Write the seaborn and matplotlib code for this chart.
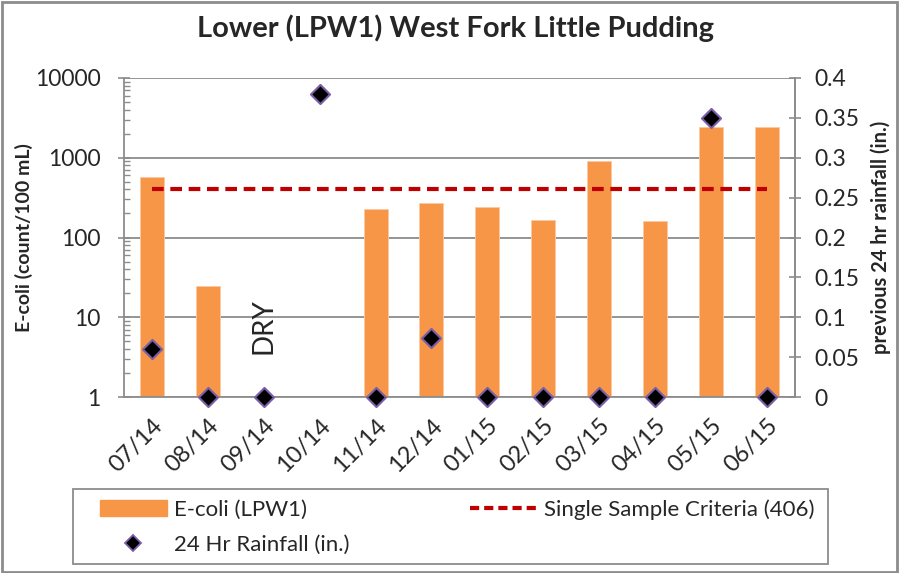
import numpy as np
import pandas as pd
import matplotlib
matplotlib.use("Agg")
import matplotlib.pyplot as plt
from matplotlib.patches import Rectangle
from matplotlib.lines import Line2D
from matplotlib.ticker import FixedLocator, NullFormatter
import seaborn as sns

# data
months = ['07/14', '08/14', '09/14', '10/14', '11/14', '12/14',
          '01/15', '02/15', '03/15', '04/15', '05/15', '06/15']
ecoli = [575, 25, np.nan, np.nan, 228, 268, 240, 168, 900, 159, 2420, 2420]
rainfall = [0.06, 0.0, 0.0, 0.38, 0.0, 0.074, 0.0, 0.0, 0.0, 0.0, 0.35, 0.0]
criteria = [406] * len(months)

df = pd.DataFrame({'month': months, 'ecoli': ecoli,
                   'rain': rainfall, 'crit': criteria})
df['pos'] = np.arange(len(df))

sns.set_style("white")
plt.rcParams['font.family'] = ['Lato', 'DejaVu Sans']

orange = '#F79646'
grey = '#8c8c8c'
tick_fs = 16.5

fig = plt.figure(figsize=(8.99, 5.73), dpi=100)
ax = fig.add_axes([0.138, 0.307, 0.746, 0.557])

sns.barplot(data=df, x='pos', y='ecoli', color=orange, width=0.43,
            saturation=1, edgecolor='#fbc9a3', linewidth=0.6, ax=ax,
            order=list(df['pos']), zorder=2)
ax.set_yscale('log')
ax.set_ylim(1, 10000)
ax.set_xlim(-0.5, len(months) - 0.5)

ax.yaxis.grid(True, which='major', color=grey, linewidth=1.3, zorder=0)
ax.set_axisbelow(True)
ax.set_yticks([1, 10, 100, 1000, 10000])
ax.set_yticklabels(['1', '10', '100', '1000', '10000'])

# x ticks between categories, labels at centres
ax.set_xticks(df['pos'])
ax.set_xticklabels(months, rotation=45, ha='right', rotation_mode='anchor')
ax.xaxis.set_minor_locator(FixedLocator(np.arange(-0.5, len(months), 1)))
ax.tick_params(axis='x', which='major', length=0, pad=13, labelsize=17)
ax.tick_params(axis='x', which='minor', length=10, direction='inout',
               color=grey, width=1.2)
ax.tick_params(axis='y', which='major', length=8, direction='inout',
               color=grey, width=1.2, labelsize=tick_fs, pad=13)
ax.tick_params(axis='y', which='minor', length=4, direction='in',
               color=grey, width=1)
ax.yaxis.set_minor_formatter(NullFormatter())

ax.spines['top'].set_visible(False)
for side in ['left', 'right', 'bottom']:
    ax.spines[side].set_color(grey)
    ax.spines[side].set_linewidth(1.3)

sns.lineplot(data=df, x='pos', y='crit', color='#c00000', linewidth=3,
             linestyle=(0, (2.8, 1.6)), ax=ax, zorder=3)

ax.set_xlabel('')
ax.set_ylabel('E-coli (count/100 mL)', fontsize=14, fontweight='bold',
              labelpad=1)

ax.text(2, 7.8, 'DRY', rotation=90, ha='center', va='center', fontsize=20)

ax2 = ax.twinx()
sns.scatterplot(data=df, x='pos', y='rain', marker='D', s=95, color='black',
                edgecolor='#7a5ea8', linewidth=1.5, ax=ax2, zorder=5,
                clip_on=False)
ax2.set_ylim(0, 0.4)
ax2.set_yticks(np.arange(0, 0.41, 0.05))
ax2.set_yticklabels(['0', '0.05', '0.1', '0.15', '0.2', '0.25', '0.3',
                     '0.35', '0.4'])
ax2.tick_params(axis='y', length=8, direction='inout', color=grey, width=1.2,
                labelsize=tick_fs, pad=10)
ax2.set_ylabel('previous 24 hr rainfall (in.)', fontsize=14.5,
               fontweight='bold', labelpad=8)
for side in ['top', 'left', 'bottom']:
    ax2.spines[side].set_visible(False)
ax2.spines['right'].set_color(grey)
ax2.spines['right'].set_linewidth(1.3)
ax2.set_xlim(-0.5, len(months) - 0.5)

fig.text(0.507, 1 - 28 / 573, 'Lower (LPW1) West Fork Little Pudding',
         fontsize=21, fontweight='bold', ha='center', va='center')

handles = [Rectangle((0, 0), 1, 1, color=orange),
           Line2D([], [], marker='D', linestyle='none', markersize=8,
                  markerfacecolor='black', markeredgecolor='#7a5ea8',
                  markeredgewidth=1.3),
           Line2D([], [], color='#c00000', linewidth=3,
                  linestyle=(0, (2.2, 1.2)))]
labels = ['E-coli (LPW1)', '24 Hr Rainfall (in.)',
          'Single Sample Criteria (406)']
leg = fig.legend(handles, labels, ncol=2, loc='upper left',
                 bbox_to_anchor=(100 / 899, 1 - 499 / 573),
                 fontsize=16, frameon=False, handlelength=3.0,
                 handletextpad=0.35, columnspacing=5.4, borderaxespad=0,
                 borderpad=0, labelspacing=0.68)

# legend box and outer chart border
fig.patches.append(Rectangle((73 / 899, 1 - 564 / 573), 755 / 899, 75 / 573,
                             transform=fig.transFigure, fill=False,
                             edgecolor=grey, linewidth=1.3))
fig.patches.append(Rectangle((0.002, 0.002), 0.996, 0.995,
                             transform=fig.transFigure, fill=False,
                             edgecolor=grey, linewidth=2))

fig.savefig('out.png', dpi=100)
